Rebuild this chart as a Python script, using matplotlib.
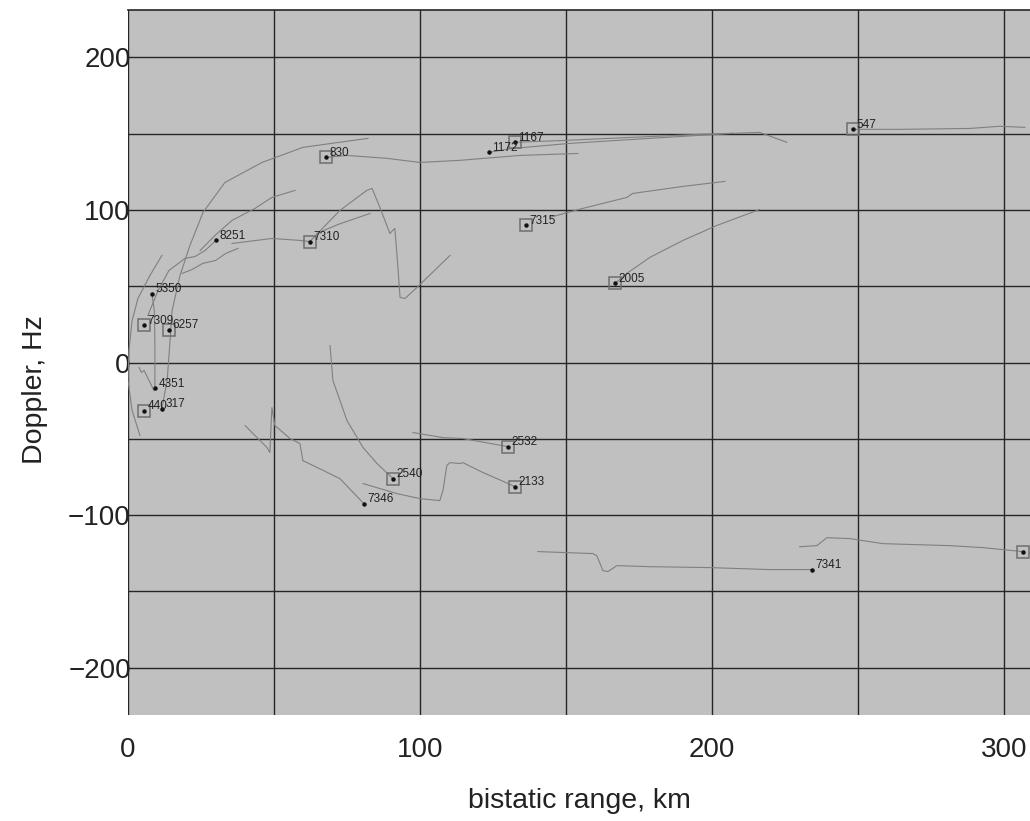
import matplotlib
matplotlib.use('Agg')
import matplotlib.pyplot as plt

plt.rcParams['font.family'] = ['Liberation Sans', 'DejaVu Sans']

# ---- track data (bistatic range km, doppler Hz) ----
leftmost_x = [4.1, 1.4, 0.0, 0.3, 1.4, 3.4, 7.5, 11.6]
leftmost_y = [-47.9, -31.5, -11.8, 7.9, 27.5, 42.0, 57.0, 70.2]

bigarc_x = [11.6, 13.4, 14.4, 15.1, 17.8, 21.2, 25.7, 33.2, 45.9, 59.9, 82.2]
bigarc_y = [-30.2, -11.8, 14.4, 34.1, 57.0, 76.7, 98.4, 118.0, 131.1, 141.0, 146.9]

t5350_x = [8.2, 9.0, 9.2, 9.2, 9.2]
t5350_y = [45.2, 34.0, 14.4, -5.2, -17.0]

hook_x = [3.8, 4.6, 5.5, 8.9]
hook_y = [-3.3, -6.5, -5.2, -18.4]

t8251_x = [6.8, 10.3, 14.0, 19.5, 23.0, 26.4, 30.1]
t8251_y = [30.8, 47.2, 60.3, 68.2, 69.5, 73.4, 80.0]

short1_x = [18.5, 22.0, 25.5, 30.0, 33.5, 37.7]
short1_y = [58.4, 61.0, 64.9, 66.9, 71.5, 74.8]

upper_x = [24.7, 29.8, 35.6, 43.5, 49.3, 57.2]
upper_y = [73.4, 83.3, 93.1, 101.0, 108.2, 112.8]

t7310_x = [35.6, 49.3, 58.9, 62.3, 72.6, 81.8, 83.6, 86.3, 89.7, 91.4, 92.1, 93.2, 94.9, 99.0, 110.3]
t7310_y = [78.0, 81.3, 80.0, 79.3, 99.7, 112.8, 114.1, 101.6, 84.6, 87.9, 71.5, 42.6, 42.0, 49.2, 70.2]

short2_x = [64.7, 72.0, 82.9]
short2_y = [84.6, 90.5, 97.7]

t830_x = [67.8, 75.0, 88.7, 100.0, 113.7, 134.2, 154.1]
t830_y = [134.4, 135.7, 133.8, 131.1, 132.5, 135.7, 137.0]

t1172_x = [123.6, 131.8, 151.4, 178.8, 207.2]
t1172_y = [137.7, 140.3, 143.6, 146.9, 150.2]

t1167_x = [132.5, 150.3, 171.9, 195.9, 216.4, 225.7]
t1167_y = [144.3, 145.6, 147.5, 149.5, 150.8, 144.3]

t547_x = [248.3, 264.4, 288.4, 298.6, 307.2]
t547_y = [152.8, 152.8, 153.4, 154.8, 154.1]

t7315_x = [144.5, 155.8, 170.9, 172.9, 190.1, 204.5]
t7315_y = [95.1, 101.0, 108.2, 110.8, 115.4, 118.7]

t2005_x = [166.8, 170.9, 178.8, 190.1, 201.7, 216.4]
t2005_y = [51.8, 58.4, 68.9, 80.0, 89.8, 100.3]

t2540_x = [69.2, 70.2, 75.0, 80.5, 85.3, 90.8]
t2540_y = [11.1, -11.8, -38.0, -55.7, -66.2, -76.1]

t7346_x = [40.1, 44.5, 47.6, 48.6, 49.0, 49.3, 50.3, 55.5, 58.9, 59.9, 63.4, 72.6, 80.8]
t7346_y = [-41.3, -49.8, -55.7, -59.0, -41.3, -29.5, -41.3, -49.8, -53.1, -64.3, -67.5, -76.1, -92.5]

t2133_x = [80.5, 92.1, 100.0, 106.8, 107.9, 109.2, 110.3, 113.7, 114.7, 121.6, 126.4, 132.5]
t2133_y = [-79.3, -85.9, -89.2, -90.5, -83.9, -67.5, -65.6, -66.2, -65.6, -72.1, -76.1, -81.3]

t2532_x = [97.6, 107.9, 114.7, 130.1]
t2532_y = [-45.9, -49.2, -49.8, -55.1]

t7341_x = [140.4, 159.2, 160.6, 162.7, 164.4, 167.5, 178.8, 199.3, 219.9, 234.2]
t7341_y = [-123.9, -125.2, -126.6, -136.4, -137.0, -133.1, -133.8, -134.4, -135.7, -135.7]

tright_x = [230.1, 236.0, 239.4, 247.3, 258.6, 281.5, 292.8, 306.5]
tright_y = [-120.7, -120.0, -114.8, -115.4, -118.7, -120.0, -121.3, -123.9]

tracks = [
    (leftmost_x, leftmost_y), (bigarc_x, bigarc_y), (t5350_x, t5350_y),
    (hook_x, hook_y), (t8251_x, t8251_y), (short1_x, short1_y),
    (upper_x, upper_y), (t7310_x, t7310_y), (short2_x, short2_y),
    (t830_x, t830_y), (t1172_x, t1172_y), (t1167_x, t1167_y),
    (t547_x, t547_y), (t7315_x, t7315_y), (t2005_x, t2005_y),
    (t2540_x, t2540_y), (t7346_x, t7346_y), (t2133_x, t2133_y),
    (t2532_x, t2532_y), (t7341_x, t7341_y), (tright_x, tright_y),
]

# ---- target markers ----
target_ids = ['5350', '7309', '6257', '4351', '440', '317', '8251', '7310', '830', '1172',
              '1167', '7315', '2005', '547', '2540', '7346', '2532', '2133', '7341', '']
target_x = [8.2, 5.5, 14.0, 9.2, 5.5, 11.6, 30.1, 62.3, 67.8, 123.6,
            132.5, 136.3, 166.8, 248.3, 90.8, 80.8, 130.1, 132.5, 234.2, 306.5]
target_y = [45.2, 24.3, 21.6, -17.0, -31.5, -30.2, 80.0, 79.3, 134.4, 137.7,
            144.3, 89.8, 51.8, 152.8, -76.1, -92.5, -55.1, -81.3, -135.7, -123.9]
boxed = [False, True, True, False, True, False, False, True, True, False,
         True, True, True, True, True, False, True, True, False, True]

fig = plt.figure(figsize=(10.30, 8.21), dpi=100)
ax = fig.add_axes([0.1243, 0.1291, 0.8757, 0.8587])
ax.set_facecolor('#c0c0c0')

for tx, ty in tracks:
    ax.plot(tx, ty, color='#808080', lw=0.8, zorder=3)

for i in range(len(target_ids)):
    if boxed[i]:
        ax.plot(target_x[i], target_y[i], 's', ms=8.5, mfc='none', mec='#6e6e6e', mew=1.1, zorder=4)
    ax.plot(target_x[i], target_y[i], 'o', ms=2.2, color='#111111', zorder=5)
    if target_ids[i]:
        ax.annotate(target_ids[i], (target_x[i], target_y[i]), xytext=(2.5, 3),
                    textcoords='offset points', ha='left', va='center',
                    fontsize=8.5, color='#222222', zorder=6)

ax.set_xlim(0, 309)
ax.set_ylim(-231, 231)
ax.set_xticks([0, 100, 200, 300])
ax.set_yticks([-200, -100, 0, 100, 200])
ax.set_yticklabels(['\u2212200', '\u2212100', '0', '100', '200'])
ax.set_xticks(range(0, 301, 50), minor=True)
ax.set_yticks(range(-200, 201, 50), minor=True)
ax.grid(True, which='both', color='#262626', lw=1.0, zorder=2)
ax.set_axisbelow(False)

ax.tick_params(axis='both', which='both', length=0, labelsize=20, colors='#222222')
ax.tick_params(axis='x', pad=16)
ax.tick_params(axis='y', pad=-2)

for side in ['left', 'right', 'bottom']:
    ax.spines[side].set_visible(False)
ax.spines['top'].set_color('#262626')
ax.spines['top'].set_linewidth(1.2)

ax.set_xlabel('bistatic range, km', fontsize=20.5, color='#222222', labelpad=18)
ax.set_ylabel('Doppler, Hz', fontsize=20.5, color='#222222')
ax.yaxis.set_label_coords(-0.089, 0.461)

fig.savefig('out.png', dpi=100)
